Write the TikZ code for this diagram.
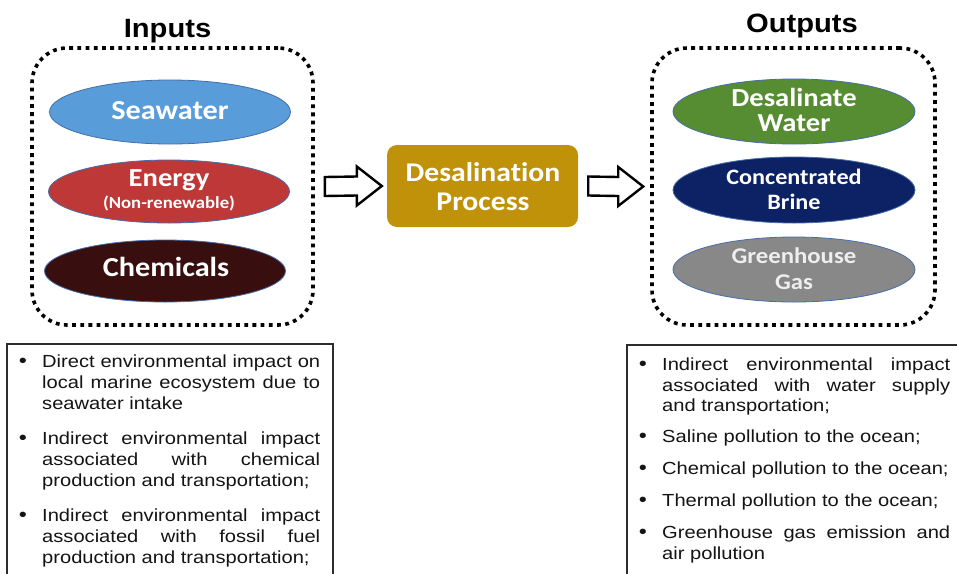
\documentclass[tikz,border=0pt]{standalone}
\usepackage{fontspec}
\usetikzlibrary{shapes.geometric,calc}
\newfontfamily\titlef[FakeStretch=1.1]{Liberation Sans}
\newfontfamily\labf[FakeStretch=1.1,Ligatures=NoCommon]{Carlito}
\newfontfamily\bodyf[FakeStretch=1.15]{Liberation Sans}
\definecolor{seablue}{RGB}{88,156,218}
\definecolor{enred}{RGB}{190,56,56}
\definecolor{chembrown}{RGB}{56,14,14}
\definecolor{dwgreen}{RGB}{86,140,50}
\definecolor{brinenavy}{RGB}{12,34,100}
\definecolor{gasgray}{RGB}{136,136,136}
\definecolor{ellborder}{RGB}{70,110,170}
\definecolor{procgold}{RGB}{192,146,10}
\definecolor{boxline}{RGB}{45,45,45}
\definecolor{bodytext}{RGB}{20,20,20}
\definecolor{gastext}{RGB}{238,238,238}
\begin{document}
\begin{tikzpicture}[x=1pt,y=-1pt,
  dotbox/.style={rectangle, rounded corners=35pt, draw=black, line width=3.6pt,
    dash pattern=on 3.8pt off 4.4pt, minimum width=281pt, minimum height=277pt, inner sep=0},
  ell/.style={ellipse, draw=ellborder, line width=0.8pt, minimum width=241pt, minimum height=64pt, inner sep=0},
  lab/.style={anchor=base, inner sep=0, text=white},
  titl/.style={anchor=base, inner sep=0, font=\titlef\bfseries\fontsize{26.5}{30}\selectfont},
  blockarr/.style={draw=black, fill=white, line width=2.4pt, line join=miter},
  txtbox/.style={draw=boxline, line width=1.4pt},
  bl/.style={anchor=base west, inner sep=0, text=bodytext, font=\bodyf\fontsize{17.5}{20}\selectfont},
  bul/.style={anchor=base, inner sep=0, text=bodytext, font=\bodyf\fontsize{20}{20}\selectfont}
]
\useasboundingbox (0,0) rectangle (957,573);
\clip (0,0) rectangle (957,573);
\fill[white] (0,0) rectangle (957,573);

% titles
\node[titl] (tin) at (167.5,37) {Inputs};
\node[titl] (tout) at (802,32) {Outputs};

% dotted group boxes
\node[dotbox] (inbox) at (172.5,186.5) {};
\node[dotbox, minimum width=283pt] (outbox) at (793.5,186.5) {};

% input ellipses
\node[ell, fill=seablue] (sea) at (170,112) {};
\node[ell, fill=enred, minimum height=63pt] (energy) at (169,191.5) {};
\node[ell, fill=chembrown, minimum height=62pt] (chem) at (165,271) {};
\node[lab, font=\labf\bfseries\fontsize{27.5}{27}\selectfont] (seaT) at (170,119.5) {Seawater};
\node[lab, font=\labf\bfseries\fontsize{26}{25.5}\selectfont] (enT) at (169,186) {Energy};
\node[lab, font=\labf\bfseries\fontsize{17}{17}\selectfont] (enT2) at (169,208.5) {(Non-renewable)};
\node[lab, font=\labf\bfseries\fontsize{27.5}{27}\selectfont] (chemT) at (166,276.5) {Chemicals};

% output ellipses
\node[ell, fill=dwgreen, minimum width=242pt, minimum height=65pt] (dw) at (794,111.5) {};
\node[ell, fill=brinenavy, minimum width=242pt, minimum height=66pt] (brine) at (794,190) {};
\node[ell, fill=gasgray, minimum width=242pt, minimum height=65pt] (gas) at (794,269.5) {};
\node[lab, font=\labf\bfseries\fontsize{26}{26}\selectfont] (dwT) at (794,106) {Desalinate};
\node[lab, font=\labf\bfseries\fontsize{26}{26}\selectfont] (dwT2) at (794,131.5) {Water};
\node[lab, font=\labf\bfseries\fontsize{22}{22}\selectfont] (brT) at (794,184) {Concentrated};
\node[lab, font=\labf\bfseries\fontsize{22}{22}\selectfont] (brT2) at (794,209) {Brine};
\node[lab, text=gastext, font=\labf\bfseries\fontsize{22.5}{22.5}\selectfont] (gasT) at (794,263) {Greenhouse};
\node[lab, text=gastext, font=\labf\bfseries\fontsize{22.5}{22.5}\selectfont] (gasT2) at (794,289) {Gas};

% process box
\node[rectangle, rounded corners=10pt, fill=procgold, minimum width=191pt, minimum height=82pt, inner sep=0] (proc) at (482.5,186) {};
\node[lab, font=\labf\bfseries\fontsize{27}{27}\selectfont] (procT) at (483,181.5) {Desalination};
\node[lab, font=\labf\bfseries\fontsize{27}{27}\selectfont] (procT2) at (483,210) {Process};

% block arrows
\coordinate (a1s) at ($(inbox.east)+(10,0)$);
\coordinate (a1e) at ($(proc.west)+(-5,0)$);
\coordinate (a2s) at ($(proc.east)+(10,0)$);
\coordinate (a2e) at ($(outbox.west)+(-7,0)$);
\draw[blockarr] ($(a1s)+(0,-9.5)$) -- ($(a1e)+(-25,-9.5)$) -- ($(a1e)+(-25,-19.5)$) -- (a1e)
  -- ($(a1e)+(-25,19.5)$) -- ($(a1e)+(-25,9.5)$) -- ($(a1s)+(0,9.5)$) -- cycle;
\draw[blockarr] ($(a2s)+(0,-9.5)$) -- ($(a2e)+(-25,-9.5)$) -- ($(a2e)+(-25,-19.5)$) -- (a2e)
  -- ($(a2e)+(-25,19.5)$) -- ($(a2e)+(-25,9.5)$) -- ($(a2s)+(0,9.5)$) -- cycle;

% bottom text boxes
\draw[txtbox] (7,344) rectangle (333,600);
\draw[txtbox] (627,345) rectangle (975,600);

% left bullets
\node[bul] (lb1) at (23,367) {•};
\node[bul] (lb2) at (23,444) {•};
\node[bul] (lb3) at (23,521) {•};
\node[bl] (l1) at (42,367) {\makebox[278pt][s]{Direct environmental impact on}};
\node[bl] (l2) at (42,388) {\makebox[278pt][s]{local marine ecosystem due to}};
\node[bl] (l3) at (42,409) {seawater intake};
\node[bl] (l4) at (42,444) {\makebox[278pt][s]{Indirect environmental impact}};
\node[bl] (l5) at (42,465) {\makebox[278pt][s]{associated with chemical}};
\node[bl] (l6) at (42,486) {production and transportation;};
\node[bl] (l7) at (42,521) {\makebox[278pt][s]{Indirect environmental impact}};
\node[bl] (l8) at (42,542) {\makebox[278pt][s]{associated with fossil fuel}};
\node[bl] (l9) at (42,563) {production and transportation;};

% right bullets
\node[bul] (rb1) at (643,370) {•};
\node[bul] (rb2) at (643,442) {•};
\node[bul] (rb3) at (643,474) {•};
\node[bul] (rb4) at (643,506) {•};
\node[bul] (rb5) at (643,538) {•};
\node[bl] (r1) at (662,370) {\makebox[288pt][s]{Indirect environmental impact}};
\node[bl] (r2) at (662,391) {\makebox[288pt][s]{associated with water supply}};
\node[bl] (r3) at (662,411) {and transportation;};
\node[bl] (r4) at (662,442) {Saline pollution to the ocean;};
\node[bl] (r5) at (662,474) {Chemical pollution to the ocean;};
\node[bl] (r6) at (662,506) {Thermal pollution to the ocean;};
\node[bl] (r7) at (662,538) {\makebox[288pt][s]{Greenhouse gas emission and}};
\node[bl] (r8) at (662,559) {air pollution};
\end{tikzpicture}
\end{document}
